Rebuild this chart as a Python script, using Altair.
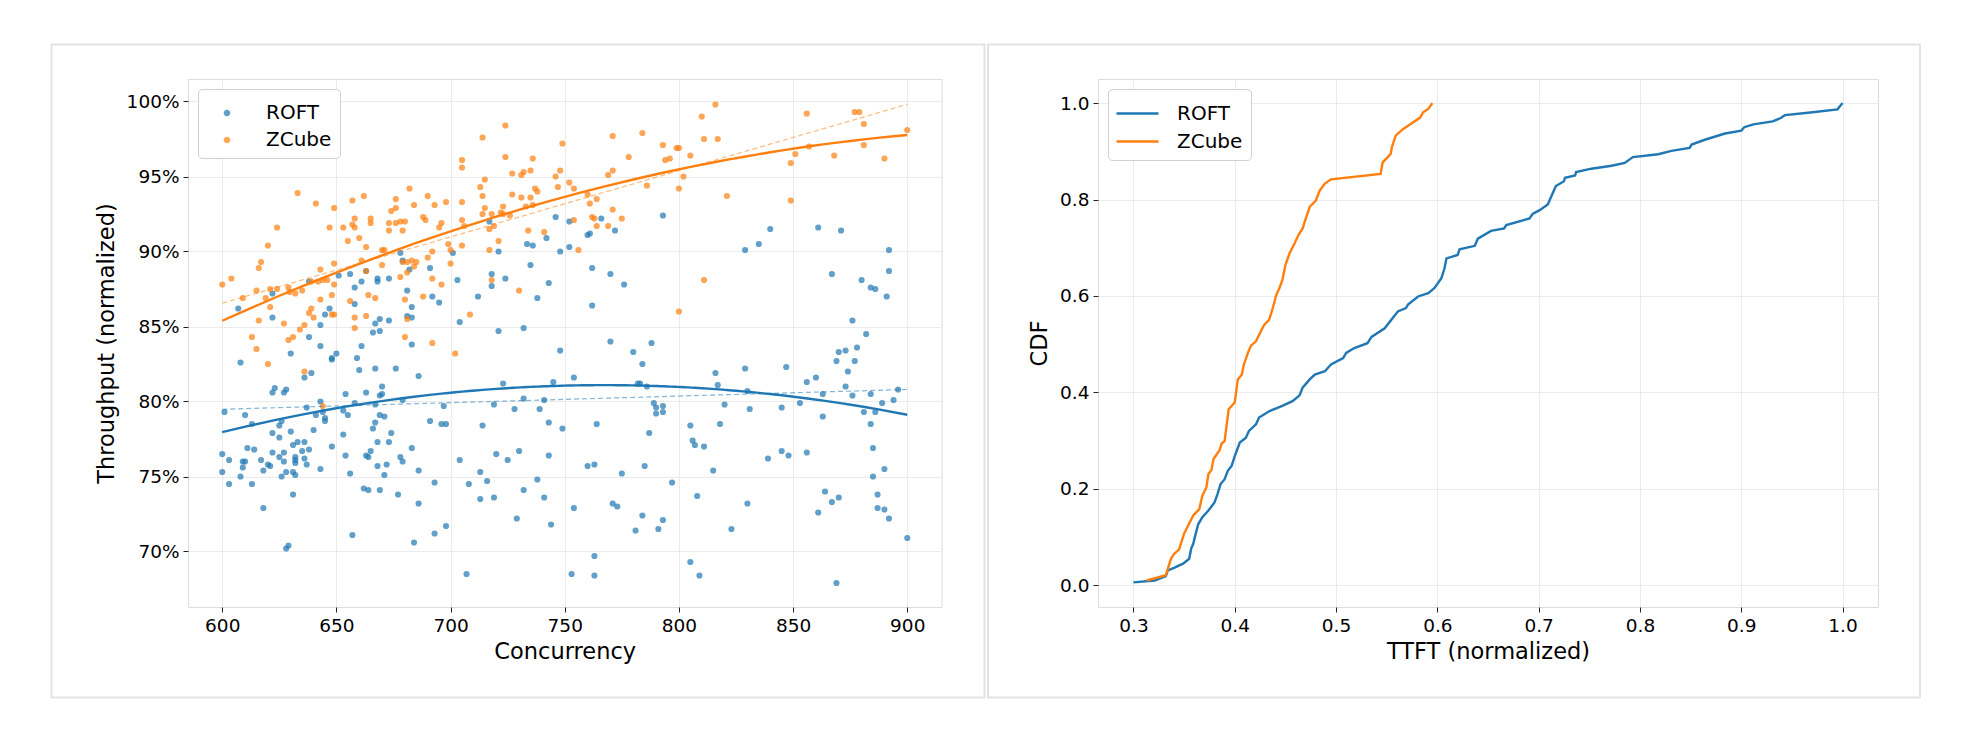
import altair as alt
import pandas as pd

BLUE = "#1f77b4"
ORANGE = "#ff7f0e"
FONT = "DejaVu Sans"

# ---------------- scatter data (Concurrency, Throughput %) ----------------
roft_x = [607,622,622,638,651,656,658,658,661,663,668,668,673,678,679,682,681,683,691,692,695,701,703,704,
          643,645,647,638,667,669,673,666,669,681,683,661,643,683,
          608,630,648,650,648,659,660,667,676,686,636,639,623,622,627,628,643,654,663,670,669,670,679,
          601,610,637,641,644,645,645,653,655,658,667,669,671,667,666,613,626,625,630,622,625,640,653,674,
          691,696,698,697,631,633,636,648,668,673,683,611,614,635,638,622,627,600,603,609,610,617,620,621,
          625,627,632,632,632,636,637,654,663,664,665,678,679,668,672,704,600,609,618,628,626,631,632,643,
          656,671,686,608,603,613,693,662,664,669,677,631,618,686,698,693,684,657,629,628,
          717,721,718,718,724,712,721,732,733.5,736,735,742,743,738,746,748,752,752,760,761,762,766,772,770,
          776,762,793,770,788,
          748,780,784,723,745,754,782,783,786,732,741,719,728,739,789,790,790,793,793,714,743,749,764,787,
          805,806,807,811,720,725,730,743,760,763,785,775,713,708,716,738,732,713,719,741,797,808,754,771,
          773,784,793,791,781,729,744,763,805,707,753,763,809,
          829,835,840,861,871,892,892,867,880,884,886,891,876,882,878,
          869,870,873,877,874,873,876,884,896,894,889,886,881,884,885,890,885,887,887,890,892,900,869,
          856,860,863,863,853,856,864,867,870,861,847,845,845,848,839,829,830,831,830,823,816,817,820,818,815]
roft_y = [86.2,87.2,85.6,88.0,88.4,88.5,87.6,86.5,88.0,88.7,88.2,88.0,88.2,89.9,89.4,88.8,87.4,86.3,88.9,87.0,86.6,89.9,88.1,85.3,
          85.1,85.8,86.2,84.3,85.2,85.5,85.4,84.6,84.7,85.7,85.6,83.7,83.7,83.8,
          82.6,83.2,82.9,83.2,82.8,82.9,82.1,82.2,82.2,81.7,81.6,81.9,80.9,80.6,80.6,80.8,80.0,80.5,80.6,81.0,80.4,80.5,80.1,
          79.3,79.1,79.6,79.1,79.3,78.9,78.7,79.4,79.1,79.9,79.8,79.1,79.0,78.6,78.2,78.5,78.7,78.4,78.0,77.9,77.6,78.1,77.8,77.9,
          78.7,78.5,78.5,79.7,77.1,77.3,77.3,77.0,77.3,77.3,76.9,76.9,76.8,76.7,76.8,76.6,76.6,76.5,76.1,76.0,76.0,76.1,75.8,75.7,
          76.3,76.0,76.3,76.1,75.9,76.2,75.8,76.4,76.4,76.3,76.7,76.3,76.0,75.7,75.8,76.1,75.3,75.6,75.4,75.3,75.0,75.3,75.1,75.5,
          75.2,75.1,75.4,75.0,74.5,74.5,74.6,74.2,74.1,74.1,73.8,73.8,72.9,73.2,71.7,71.2,70.6,71.1,70.4,70.2,
          92.0,90.0,88.5,87.7,88.2,87.0,84.7,84.9,90.5,90.4,89.1,90.9,87.9,86.9,92.3,90.0,92.0,90.3,91.1,91.2,88.9,92.2,91.4,88.5,
          87.8,86.4,92.4,84.0,83.9,
          83.4,83.3,82.5,81.2,81.3,81.6,81.2,81.2,81.0,80.2,80.1,79.8,79.5,79.5,79.9,79.6,79.2,79.7,79.3,78.4,78.6,78.2,78.5,77.9,
          78.4,77.4,77.1,77.0,76.5,76.1,76.7,76.4,75.7,75.8,75.7,75.2,75.3,74.5,74.7,74.8,74.1,73.5,73.6,73.6,74.6,73.7,72.9,73.2,
          73.0,72.4,72.1,71.5,71.4,72.2,71.8,69.7,69.3,68.5,68.5,68.4,68.4,
          90.1,90.5,91.5,91.6,91.4,90.1,88.7,88.5,88.1,87.6,87.5,87.0,85.4,84.5,83.6,
          82.7,83.3,83.4,82.7,82.0,81.0,80.4,80.5,80.8,80.1,79.9,79.3,79.3,78.5,76.9,75.5,75.0,73.8,72.9,72.8,72.2,70.9,67.9,
          81.3,81.6,80.5,79.0,79.9,76.6,74.0,73.3,73.6,72.6,82.3,79.6,76.7,76.4,76.2,82.2,80.7,79.5,73.2,71.5,81.9,81.1,79.8,78.5,75.4]

zcube_x = [600,604,609,613,616,616,617,615,619,620,621,621,624,624,627,629,629.5,632,633,631,629,634,636,635,638,639,640,
           641,639,642,643,643,644,646,647,648,648,649,649,649,649,653,655,656,657,657,658,658,658,658,660,661,662,663,
           664,665,665,663,663,667,670,671,670,673,673,674,676,676,676,678,679,680,678,679,681,681,683,684,682,684,685,
           680,681,680,688,689,690,688,690,692,692,693,695,696,696,698,699,700,700,705,705,705,705,705,692,
           615,620,636,702,644,
           706,708.5,714,724,724,736,715,713,714,715,714,718,717,719,722,723,723,726,721,717,718,727,731,732,735,727,
           731,735,737,738,733,736,734,741,730,746,747,748,749,752,754,754,756,760,761,764,762,763,764,769,771,775,
           769,771,771,778,784,786,793,794,796,799,800,802,800,805,810,811,811,800,
           816,817,821,856,849,851,857,849,868,877,879,881,881,890,900]
zcube_y = [87.8,88.2,86.9,84.3,85.4,88.9,89.3,87.4,86.9,90.4,87.5,86.3,91.6,87.5,85.2,87.6,87.3,87.2,93.9,84.3,84.1,84.8,85.1,87.4,85.9,86.2,85.6,
           93.2,88.0,88.0,86.8,88.8,88.1,88.1,91.6,87.1,85.8,92.9,89.2,87.8,85.8,91.6,90.7,86.7,91.8,93.4,92.2,91.6,85.6,84.9,90.9,89.4,93.7,90.3,
           87.1,92.2,91.9,88.7,85.7,86.9,90.1,90.1,89.1,91.9,91.4,92.7,93.5,92.9,91.9,92.0,91.4,92.0,88.3,89.3,89.3,88.6,89.4,89.0,94.2,93.1,89.3,
           86.8,85.5,84.3,92.3,92.1,93.7,87.0,89.6,90.0,88.2,93.1,91.6,91.9,87.8,93.3,90.5,89.2,90.1,96.1,95.6,93.3,92.1,90.4,83.9,
           83.5,82.5,82.0,83.2,79.7,
           91.7,85.8,97.6,98.4,96.3,96.2,94.8,94.3,93.7,92.9,92.5,92.5,91.5,91.7,92.6,93.0,92.5,92.4,90.7,90.1,88.1,95.2,95.1,95.3,95.4,93.8,
           93.6,93.6,94.2,94.0,93.0,93.1,91.4,91.3,87.4,95.0,94.3,95.4,97.2,94.6,94.2,92.1,90.1,93.8,93.2,93.5,92.3,92.2,91.7,91.7,92.8,92.2,
           95.1,95.4,97.7,96.3,97.9,94.4,97.1,96.1,96.2,96.9,96.9,95.0,94.2,96.4,99.0,97.5,88.1,86.0,
           99.8,97.5,93.7,99.2,95.9,96.5,97.0,93.4,96.4,99.3,99.3,98.5,97.1,96.2,98.1]

# ---------------- CDF curves (TTFT normalized, CDF) ----------------
roft_t = [0.300,0.321,0.332,0.334,0.340,0.349,0.355,0.357,0.359,0.361,0.364,0.368,0.374,0.380,0.383,0.386,0.390,0.393,
          0.397,0.400,0.405,0.411,0.414,0.421,0.424,0.434,0.447,0.457,0.464,0.467,0.474,0.479,0.489,0.495,0.507,0.510,
          0.518,0.531,0.535,0.548,0.561,0.569,0.571,0.581,0.591,0.597,0.604,0.607,0.609,0.620,0.622,0.637,0.640,0.653,
          0.666,0.668,0.691,0.694,0.701,0.709,0.713,0.717,0.725,0.726,0.736,0.737,0.752,0.772,0.785,0.793,0.818,0.831,
          0.849,0.851,0.864,0.884,0.900,0.903,0.912,0.931,0.939,0.943,0.966,0.995,1.000]
roft_c = [0.006,0.010,0.019,0.031,0.036,0.045,0.055,0.076,0.086,0.103,0.127,0.141,0.155,0.172,0.189,0.210,0.220,0.237,
          0.248,0.268,0.296,0.306,0.320,0.334,0.348,0.361,0.372,0.382,0.394,0.410,0.427,0.437,0.444,0.458,0.471,0.482,
          0.492,0.502,0.515,0.533,0.568,0.575,0.582,0.599,0.606,0.616,0.637,0.657,0.678,0.685,0.697,0.704,0.719,0.735,
          0.740,0.747,0.761,0.770,0.778,0.790,0.809,0.828,0.838,0.845,0.850,0.857,0.864,0.870,0.876,0.888,0.894,0.901,
          0.907,0.914,0.924,0.937,0.943,0.950,0.956,0.962,0.969,0.975,0.980,0.987,1.000]
zcube_t = [0.313,0.332,0.337,0.340,0.345,0.350,0.354,0.359,0.365,0.368,0.372,0.374,0.377,0.379,0.385,0.387,0.390,0.394,
           0.400,0.403,0.407,0.409,0.413,0.416,0.421,0.426,0.429,0.434,0.437,0.441,0.444,0.447,0.450,0.454,0.459,0.463,
           0.467,0.470,0.474,0.480,0.484,0.489,0.495,0.544,0.546,0.551,0.554,0.555,0.559,0.566,0.574,0.583,0.586,0.591,0.595]
zcube_c = [0.010,0.021,0.055,0.065,0.074,0.107,0.124,0.145,0.158,0.186,0.203,0.231,0.239,0.262,0.280,0.294,0.299,0.365,
           0.379,0.427,0.437,0.458,0.482,0.497,0.506,0.528,0.540,0.551,0.571,0.602,0.616,0.633,0.664,0.688,0.709,0.727,
           0.740,0.760,0.785,0.798,0.819,0.833,0.842,0.853,0.877,0.888,0.895,0.908,0.933,0.946,0.957,0.970,0.981,0.988,1.000]

series_names = ["ROFT", "ZCube"]
x_ticks = [600, 650, 700, 750, 800, 850, 900]
y_ticks = [70, 75, 80, 85, 90, 95, 100]
t_ticks = [0.3, 0.4, 0.5, 0.6, 0.7, 0.8, 0.9, 1.0]
c_ticks = [0.0, 0.2, 0.4, 0.6, 0.8, 1.0]

scatter_df = pd.concat([
    pd.DataFrame({"x": roft_x, "y": roft_y, "series": "ROFT"}),
    pd.DataFrame({"x": zcube_x, "y": zcube_y, "series": "ZCube"}),
], ignore_index=True)

cdf_df = pd.concat([
    pd.DataFrame({"t": roft_t, "c": roft_c, "series": "ROFT", "i": range(len(roft_t))}),
    pd.DataFrame({"t": zcube_t, "c": zcube_c, "series": "ZCube", "i": range(len(zcube_t))}),
], ignore_index=True)

color_scale = alt.Scale(domain=series_names, range=[BLUE, ORANGE])

# custom legend symbols (unit square [-1,1] scaled by sqrt(size)/2)
DOT = "M-0.22,0a0.22,0.22 0 1,0 0.44,0a0.22,0.22 0 1,0 -0.44,0"
DASH = "M-1.4,0L1.4,0"

legend_common = dict(
    title=None, orient="top-left", offset=10, padding=8, cornerRadius=4,
    strokeColor="#d0d0d0", fillColor="white", labelFont=FONT, labelFontSize=20,
    labelColor="#000", symbolSize=900, rowPadding=1, labelOffset=23, symbolOffset=5,
)

axis_common = dict(
    labelFont=FONT, labelFontSize=18.5, labelColor="#000", titleFont=FONT, titleFontSize=22.5,
    titleFontWeight="normal", titleColor="#000", grid=True, gridColor="#ebebeb", gridWidth=1,
    domain=False, tickColor="#222", tickSize=5, tickWidth=1, labelPadding=4,
)

frame_df = pd.DataFrame({"k": [0]})

# ---------------- left panel ----------------
xs = alt.X("x:Q", scale=alt.Scale(domain=[585, 915], nice=False, zero=False),
           axis=alt.Axis(values=x_ticks, title="Concurrency", titlePadding=6, **axis_common))
ys = alt.Y("y:Q", scale=alt.Scale(domain=[66.3, 101.5], nice=False, zero=False),
           axis=alt.Axis(values=y_ticks, labelExpr="datum.value + '%'", title="Throughput (normalized)",
                         titlePadding=8, **axis_common))

frame_left = alt.Chart(frame_df).mark_rect(filled=False, stroke="#e3e3e3", strokeWidth=2).encode(
    x=alt.value(-136.5), x2=alt.value(796.5), y=alt.value(-34.6), y2=alt.value(618.4))

points = alt.Chart(scatter_df).mark_circle(size=38, opacity=0.7).encode(
    x=xs, y=ys,
    color=alt.Color("series:N", scale=color_scale,
                    legend=alt.Legend(symbolType=DOT, **legend_common)))

def fit(name, color, method, order, width, opacity, dash=None):
    base = alt.Chart(scatter_df).transform_filter(alt.datum.series == name)
    if method == "poly":
        base = base.transform_regression("x", "y", method="poly", order=order, extent=[600, 900])
    else:
        base = base.transform_regression("x", "y", method="linear", extent=[600, 900])
    kw = dict(color=color, strokeWidth=width, opacity=opacity)
    if dash:
        kw["strokeDash"] = dash
    return base.mark_line(**kw).encode(x="x:Q", y="y:Q")

left = alt.layer(
    frame_left, points,
    fit("ROFT", BLUE, "linear", 1, 1.2, 0.55, [5, 3]),
    fit("ZCube", ORANGE, "linear", 1, 1.2, 0.55, [5, 3]),
    fit("ROFT", BLUE, "poly", 2, 2.4, 1.0),
    fit("ZCube", ORANGE, "poly", 2, 2.4, 1.0),
).properties(width=753.5, height=528)

# ---------------- right panel ----------------
frame_right = alt.Chart(frame_df).mark_rect(filled=False, stroke="#e3e3e3", strokeWidth=2).encode(
    x=alt.value(-110), x2=alt.value(822), y=alt.value(-34.6), y2=alt.value(618.4))

cdf_lines = alt.Chart(cdf_df).mark_line(strokeWidth=2.4).encode(
    x=alt.X("t:Q", scale=alt.Scale(domain=[0.265, 1.035], nice=False, zero=False),
            axis=alt.Axis(values=t_ticks, format=".1f", title="TTFT (normalized)", titlePadding=6, **axis_common)),
    y=alt.Y("c:Q", scale=alt.Scale(domain=[-0.045, 1.05], nice=False, zero=False),
            axis=alt.Axis(values=c_ticks, format=".1f", title="CDF", titlePadding=8, **axis_common)),
    color=alt.Color("series:N", scale=color_scale,
                    legend=alt.Legend(symbolType=DASH, symbolStrokeWidth=2.4, **legend_common)),
    order="i:Q",
)

right = alt.layer(frame_right, cdf_lines).properties(width=780, height=528)

chart = alt.hconcat(left, right, spacing=0).resolve_scale(
    color="independent"
).resolve_legend(
    color="independent"
).properties(
    padding={"left": 42, "top": 34, "right": 10, "bottom": 10}
).configure_view(stroke="#222", strokeWidth=1).configure(background="white")

chart.save("out.html", embed_options={"renderer": "svg", "actions": False})
